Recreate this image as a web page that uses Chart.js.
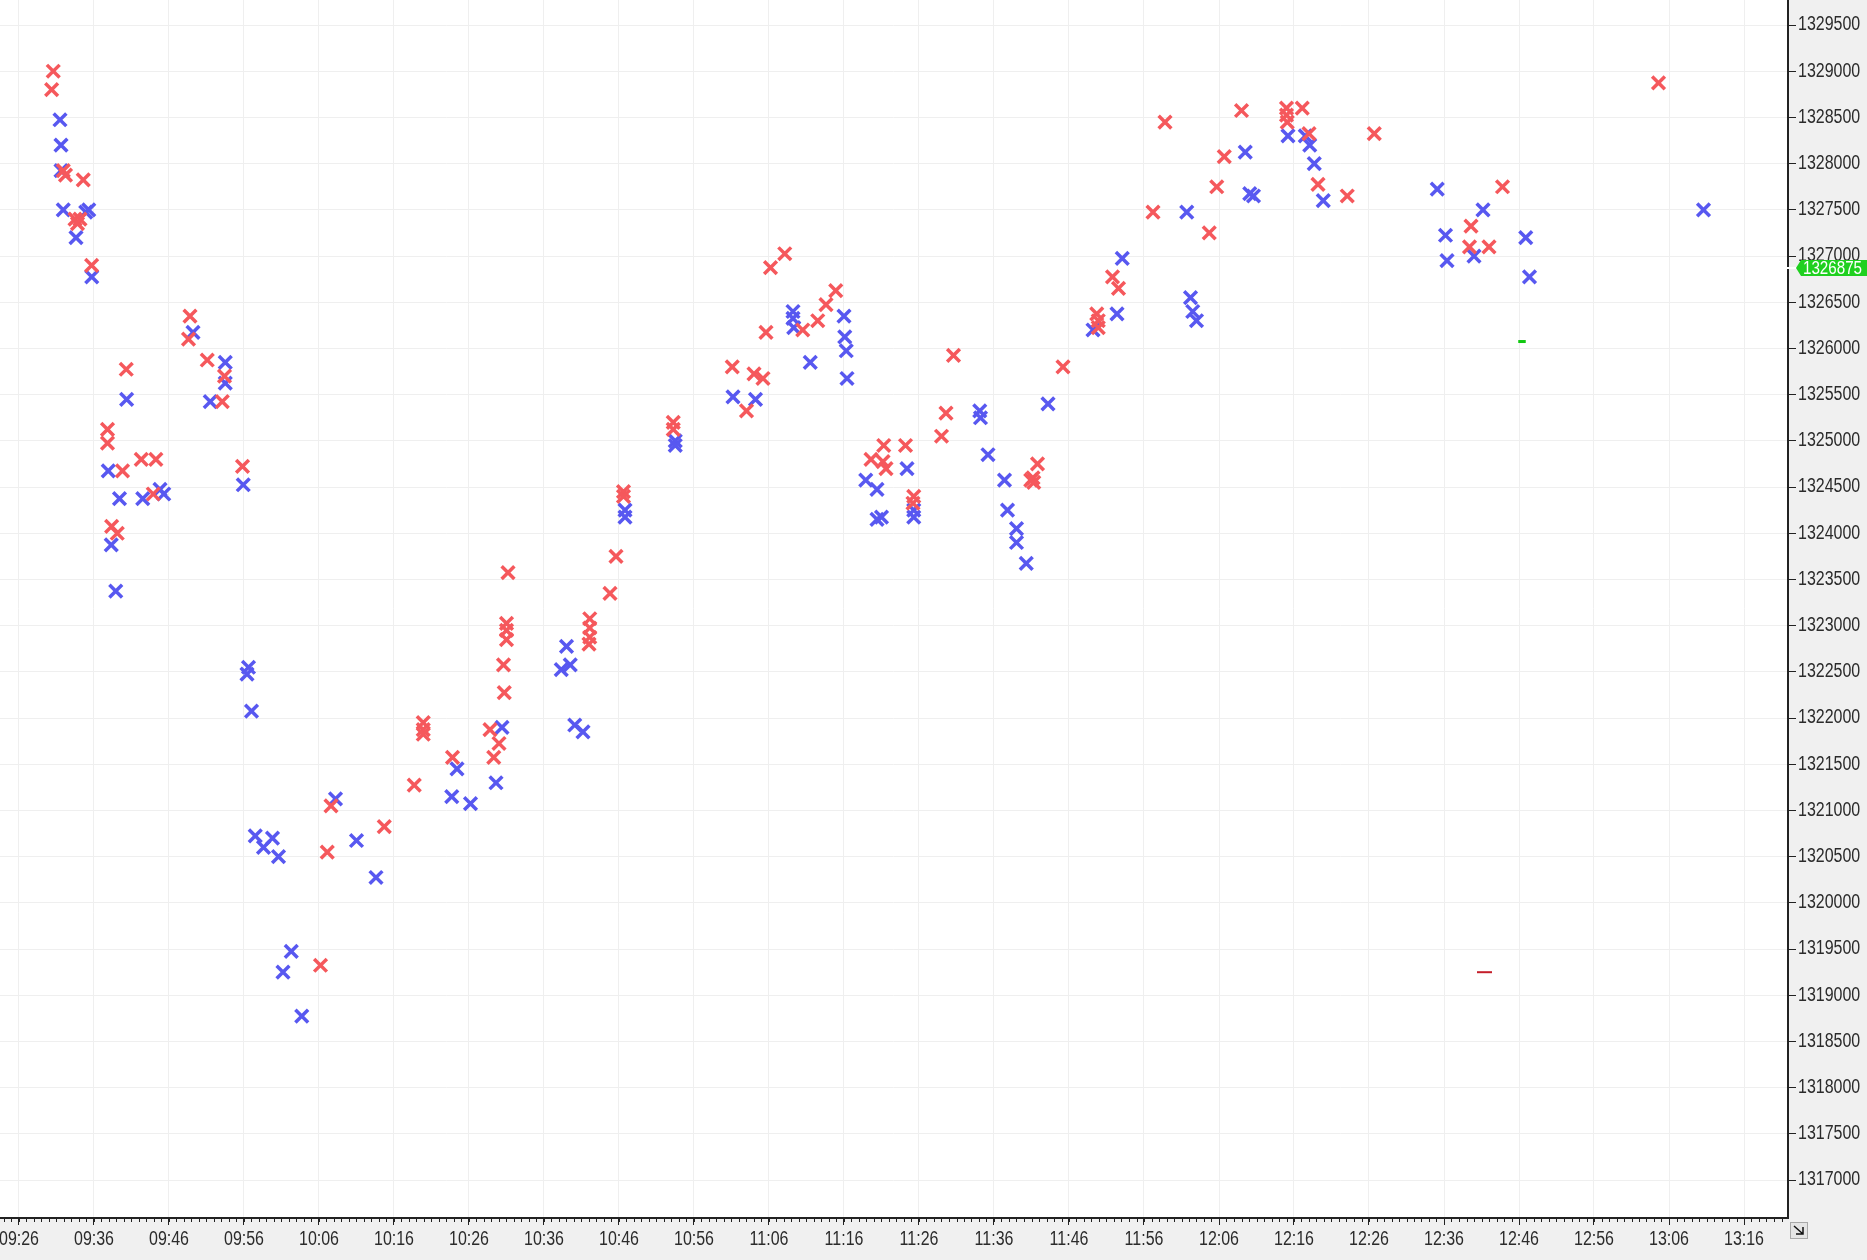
<!DOCTYPE html>
<html>
<head>
<meta charset="utf-8">
<script src="https://cdn.jsdelivr.net/npm/chart.js@4.4.1/dist/chart.umd.min.js"></script>
<style>
  html, body { margin: 0; padding: 0; background: #f0f0f0; }
  canvas { display: block; }
</style>
</head>
<body>
<canvas id="chart" width="1867" height="1260"></canvas>
<script>
// sell prints (red) and buy prints (blue), time of day + price
const redTimes = [
  '09:30:21','09:30:34','09:31:54','09:32:12','09:33:28','09:33:48','09:34:08','09:34:34','09:35:41',
  '09:37:48','09:37:48','09:38:21','09:39:06','09:39:48','09:40:18','09:42:18','09:43:54','09:44:15',
  '09:48:36','09:48:48','09:51:06','09:53:06','09:53:24','09:55:48',
  '10:06:12','10:07:06','10:07:36','10:14:42','10:18:42','10:19:54','10:19:54','10:19:54','10:23:48',
  '10:28:48','10:29:18','10:30:00','10:30:36','10:30:42','10:31:00','10:31:00','10:31:00','10:31:12',
  '10:42:00','10:42:06','10:42:06','10:42:06','10:44:48','10:45:36','10:46:36','10:46:36',
  '10:53:14','10:53:14','11:01:06','11:03:00','11:04:00','11:05:12','11:05:36','11:06:12','11:08:06',
  '11:10:30','11:12:30','11:13:36','11:14:54','11:19:36','11:21:12','11:21:18','11:21:36','11:24:12',
  '11:25:12','11:25:18','11:29:00','11:29:36','11:30:36','11:40:54','11:41:12','11:41:18','11:41:48',
  '11:45:12','11:49:42','11:49:54','11:49:54','11:51:48','11:52:36','11:57:12','11:58:48',
  '12:04:42','12:05:42','12:06:42','12:09:00','12:15:00','12:15:00','12:15:06','12:17:06','12:18:00',
  '12:19:12','12:23:06','12:26:42','12:39:24','12:39:36','12:42:00','12:43:48','13:04:36'
];
const redPrices = [
  1328800,1329000,1327925,1327875,1327400,1327350,1327400,1327825,1326900,
  1325125,1324975,1324075,1324000,1324675,1325775,1324800,1324425,1324800,
  1326100,1326350,1325875,1325425,1325700,1324725,
  1319325,1320550,1321050,1320825,1321275,1321950,1321875,1321825,1321575,
  1321875,1321575,1321725,1322575,1322275,1323025,1322950,1322850,1323575,
  1322800,1323075,1322975,1322875,1323350,1323750,1324450,1324400,
  1325200,1325125,1325800,1325325,1325725,1325675,1326175,1326875,1327025,
  1326200,1326300,1326475,1326625,1324800,1324775,1324950,1324700,1324950,
  1324325,1324400,1325050,1325300,1325925,1324575,1324600,1324550,1324750,
  1325800,1326375,1326300,1326225,1326775,1326650,1327475,1328450,
  1327250,1327750,1328075,1328575,1328600,1328525,1328450,1328600,1328325,
  1327775,1327650,1328325,1327100,1327325,1327100,1327750,1328875
];
const blueTimes = [
  '09:31:28','09:31:36','09:31:36','09:31:54','09:33:36','09:34:54','09:35:18','09:35:42',
  '09:37:54','09:38:18','09:38:54','09:39:24','09:40:21','09:42:30','09:44:48','09:45:18',
  '09:49:12','09:51:30','09:53:30','09:53:30','09:55:54','09:56:24','09:56:36','09:57:00',
  '09:57:30','09:58:36','09:59:48','10:00:36','10:01:12','10:02:18','10:03:42','10:08:12',
  '10:11:00','10:13:36','10:23:42','10:24:24','10:26:12','10:29:36','10:30:24','10:38:18',
  '10:39:00','10:39:30','10:40:06','10:41:12','10:46:48','10:46:48','10:53:30','10:53:30',
  '11:01:12','11:04:12','11:09:12','11:09:12','11:09:18','11:11:30','11:16:00','11:16:06',
  '11:16:18','11:16:24','11:18:54','11:20:24','11:20:24','11:21:00','11:24:24','11:25:18',
  '11:25:18','11:34:06','11:34:12','11:35:12','11:37:24','11:37:48','11:39:00','11:39:00',
  '11:40:18','11:43:12','11:49:12','11:52:24','11:53:06','12:01:42','12:02:12','12:02:30',
  '12:03:00','12:09:30','12:10:06','12:10:36','12:15:12','12:17:30','12:18:06','12:18:42',
  '12:19:54','12:35:06','12:36:12','12:36:24','12:40:00','12:41:12','12:46:54','12:47:24',
  '13:10:36'
];
const bluePrices = [
  1328475,1328200,1327925,1327500,1327200,1327475,1327500,1326775,
  1324675,1323875,1323375,1324375,1325450,1324375,1324475,1324425,
  1326175,1325425,1325850,1325625,1324525,1322475,1322550,1322075,
  1320725,1320600,1320700,1320500,1319250,1319475,1318775,1321125,
  1320675,1320275,1321150,1321450,1321075,1321300,1321900,1322525,
  1322775,1322575,1321925,1321850,1324250,1324175,1325000,1324950,
  1325475,1325450,1326400,1326325,1326225,1325850,1326350,1326125,
  1325975,1325675,1324575,1324475,1324150,1324175,1324700,1324250,
  1324175,1325325,1325250,1324850,1324575,1324250,1324050,1323900,
  1323675,1325400,1326200,1326375,1326975,1327475,1326550,1326400,
  1326300,1328125,1327675,1327650,1328300,1328300,1328200,1328000,
  1327600,1327725,1327225,1326950,1327000,1327500,1327200,1326775,
  1327500
];
// two short level marks
const greenMarkTimes = ['12:45:54', '12:46:54'];
const greenMarkPrice = 1326075;
const redMarkTimes = ['12:40:24', '12:42:24'];
const redMarkPrice = 1319250;
const lastPrice = 1326875;

const xTickLabels = ['09:26','09:36','09:46','09:56','10:06','10:16','10:26','10:36','10:46','10:56',
  '11:06','11:16','11:26','11:36','11:46','11:56','12:06','12:16','12:26','12:36','12:46','12:56','13:06','13:16'];
const yTickValues = [1317000,1317500,1318000,1318500,1319000,1319500,1320000,1320500,1321000,1321500,
  1322000,1322500,1323000,1323500,1324000,1324500,1325000,1325500,1326000,1326500,1327000,1327500,
  1328000,1328500,1329000,1329500];

const xMin = '09:23:28', xMax = '13:21:52';
const yMin = 1316590, yMax = 1329771;

const FONT = '"Liberation Sans", Arial, sans-serif';
const LABEL_SIZE = 19.5;
const SQUEEZE = 0.82; // the original uses a narrow face
const RED = 'rgb(245, 88, 92)';
const BLUE = 'rgb(88, 88, 240)';
const GRID = '#efefef';

function toMinutes(s) {
  const p = s.split(':').map(Number);
  return p[0] * 60 + p[1] + (p[2] || 0) / 60;
}
function points(times, prices) {
  return times.map((t, i) => ({ x: toMinutes(t), y: prices[i] }));
}
function narrowText(ctx, text, x, y, align, size) {
  ctx.save();
  ctx.translate(x, y);
  ctx.scale(SQUEEZE, 1);
  ctx.font = size + 'px ' + FONT;
  ctx.textAlign = align;
  ctx.textBaseline = 'middle';
  ctx.fillText(text, 0, 0);
  ctx.restore();
}

const background = {
  id: 'background',
  beforeDraw(chart) {
    const { ctx, chartArea: a, width, height } = chart;
    ctx.save();
    ctx.fillStyle = '#f0f0f0';
    ctx.fillRect(0, 0, width, height);
    ctx.fillStyle = '#ffffff';
    ctx.fillRect(a.left, a.top, a.right - a.left, a.bottom - a.top);
    ctx.restore();
  }
};

const extras = {
  id: 'extras',
  afterDraw(chart) {
    const { ctx, chartArea: a, scales: { x, y } } = chart;
    ctx.save();
    // minor minute ticks under the time axis
    ctx.strokeStyle = '#222';
    ctx.lineWidth = 1;
    ctx.beginPath();
    for (let m = Math.ceil(x.min); m <= x.max; m++) {
      const px = Math.round(x.getPixelForValue(m)) + 0.5;
      ctx.moveTo(px, a.bottom);
      ctx.lineTo(px, a.bottom + 4);
    }
    ctx.stroke();

    // axis labels
    ctx.fillStyle = '#2b2b2b';
    x.ticks.forEach((t, i) => {
      narrowText(ctx, xTickLabels[i], x.getPixelForValue(t.value), a.bottom + 22, 'center', LABEL_SIZE);
    });
    y.ticks.forEach(t => {
      narrowText(ctx, String(t.value), a.right + 10, y.getPixelForValue(t.value), 'left', LABEL_SIZE);
    });

    // last price tag on the price axis
    const py = Math.round(y.getPixelForValue(lastPrice));
    ctx.strokeStyle = '#ffffff';
    ctx.lineWidth = 2;
    ctx.beginPath();
    ctx.moveTo(a.right - 18, py);
    ctx.lineTo(a.right + 8, py);
    ctx.stroke();
    ctx.fillStyle = '#1fd01f';
    ctx.beginPath();
    ctx.moveTo(a.right + 8, py);
    ctx.lineTo(a.right + 13, py - 8);
    ctx.lineTo(chart.width, py - 8);
    ctx.lineTo(chart.width, py + 8);
    ctx.lineTo(a.right + 13, py + 8);
    ctx.closePath();
    ctx.fill();
    ctx.fillStyle = '#ffffff';
    narrowText(ctx, String(lastPrice), a.right + 15, py + 1, 'left', 18.5);

    // little resize box in the corner
    const bx = a.right + 2, by = a.bottom + 4;
    ctx.fillStyle = '#e4e4e4';
    ctx.fillRect(bx, by, 18, 17);
    ctx.strokeStyle = '#a8a8a8';
    ctx.lineWidth = 1;
    ctx.strokeRect(bx + 0.5, by + 0.5, 17, 16);
    ctx.strokeStyle = '#111';
    ctx.lineWidth = 1.5;
    ctx.beginPath();
    ctx.moveTo(bx + 4, by + 4);
    ctx.lineTo(bx + 13, by + 12);
    ctx.moveTo(bx + 13, by + 5);
    ctx.lineTo(bx + 13, by + 12);
    ctx.lineTo(bx + 6, by + 12);
    ctx.stroke();
    ctx.restore();
  }
};

function createChart() {
  const ctx = document.getElementById('chart').getContext('2d');

  const data = {
    datasets: [
      {
        label: 'Sell',
        data: points(redTimes, redPrices),
        pointStyle: 'crossRot',
        pointRadius: 9,
        borderWidth: 3.5,
        borderColor: RED,
        backgroundColor: RED
      },
      {
        label: 'Buy',
        data: points(blueTimes, bluePrices),
        pointStyle: 'crossRot',
        pointRadius: 9,
        borderWidth: 3.5,
        borderColor: BLUE,
        backgroundColor: BLUE
      },
      {
        label: 'mark1',
        type: 'line',
        data: greenMarkTimes.map(t => ({ x: toMinutes(t), y: greenMarkPrice })),
        borderColor: '#10c810',
        borderWidth: 3,
        pointRadius: 0
      },
      {
        label: 'mark2',
        type: 'line',
        data: redMarkTimes.map(t => ({ x: toMinutes(t), y: redMarkPrice })),
        borderColor: '#c41e2a',
        borderWidth: 2,
        pointRadius: 0
      }
    ]
  };

  const config = {
    type: 'scatter',
    data: data,
    options: {
      responsive: false,
      animation: false,
      devicePixelRatio: 1,
      layout: { padding: 0, autoPadding: false },
      plugins: { legend: { display: false }, tooltip: { enabled: false } },
      scales: {
        x: {
          type: 'linear',
          position: 'bottom',
          min: toMinutes(xMin),
          max: toMinutes(xMax),
          afterBuildTicks: s => { s.ticks = xTickLabels.map(l => ({ value: toMinutes(l) })); },
          afterFit: s => { s.height = 42; s.paddingLeft = 0; s.paddingRight = 0; },
          ticks: { display: false, autoSkip: false, callback: (v, i) => xTickLabels[i] },
          grid: { color: GRID, lineWidth: 1, tickLength: 7, tickColor: '#222' },
          border: { color: '#222', width: 2 }
        },
        y: {
          type: 'linear',
          position: 'right',
          min: yMin,
          max: yMax,
          afterBuildTicks: s => { s.ticks = yTickValues.map(v => ({ value: v })); },
          afterFit: s => { s.width = 79; s.paddingTop = 0; s.paddingBottom = 0; },
          ticks: { display: false, callback: v => String(v) },
          grid: { color: GRID, lineWidth: 1, tickLength: 8, tickColor: '#222' },
          border: { color: '#222', width: 2 }
        }
      }
    },
    plugins: [background, extras]
  };

  new Chart(ctx, config);
}

createChart();
</script>
</body>
</html>
